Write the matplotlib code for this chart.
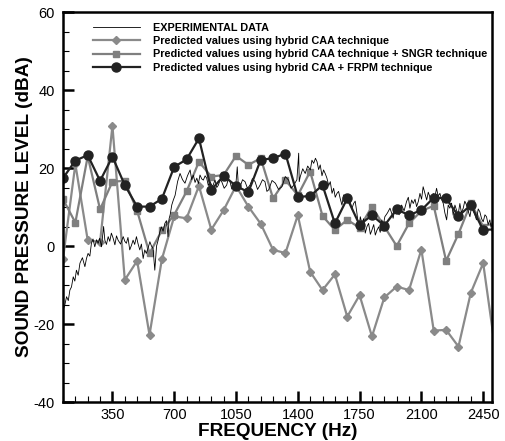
import matplotlib
matplotlib.use("Agg")
import matplotlib.pyplot as plt
from matplotlib.ticker import MultipleLocator, FixedLocator

plt.rcParams['font.family'] = ['Liberation Sans', 'DejaVu Sans']
plt.rcParams['axes.unicode_minus'] = False

# predicted values, one every 70 Hz
freq_pred = [70, 140, 210, 280, 350, 420, 490, 560, 630, 700, 770, 840, 910, 980,
             1050, 1120, 1190, 1260, 1330, 1400, 1470, 1540, 1610, 1680, 1750,
             1820, 1890, 1960, 2030, 2100, 2170, 2240, 2310, 2380, 2450, 2520]
spl_caa = [-3.3, 21, 1.5, 1.0, 30.8, -8.7, -3.8, -22.8, -3.4, 7.6,
           7.1, 15.4, 4.2, 9.2, 15.4, 10.1, 5.7, -1.0, -1.8, 7.9,
           -6.6, -11.3, -7.3, -18.1, -12.6, -23.2, -13.2, -10.4, -11.3, -0.9,
           -21.7, -21.5, -25.8, -12.0, -4.4, -27]
spl_sngr = [12, 6, 23, 9.4, 16.5, 16.7, 9, -1.9, 4, 8,
            14, 21.6, 17.8, 18.2, 23.1, 20.8, 22.5, 12.2, 16.9, 13,
            19.1, 7.7, 4.1, 6.7, 4.7, 10.1, 5.0, 0.0, 5.8, 9.0,
            10.3, -3.8, 3.1, 11.0, 5.0, 6.0]
spl_frpm = [17.4, 21.9, 23.3, 16.7, 22.9, 15.6, 10.1, 10.1, 12.1, 20.3,
            22.2, 27.6, 14.4, 18.0, 15.4, 13.8, 22.1, 22.5, 23.7, 12.6,
            12.8, 15.6, 5.8, 12.2, 5.4, 7.9, 5.2, 9.4, 7.9, 9.2,
            12.4, 12.2, 7.7, 10.5, 4.1, 4.3]

freq_exp = [71, 80, 90, 100, 109, 118, 128, 137, 146, 156, 166, 180, 194, 203,
            212, 222, 231, 240, 250, 260, 269, 278, 288, 300, 307, 316, 326,
            335, 344, 354, 364, 373, 382, 396, 411, 420, 429, 438, 448, 458,
            467, 476, 486, 495, 505, 514, 524, 533, 542, 552, 562, 571, 580,
            590, 600, 609, 618, 627, 637, 647, 656, 665, 671, 677, 686, 695,
            705, 719, 733, 747, 761, 775, 790, 799, 808, 818, 828, 837, 846,
            856, 865, 875, 884, 893, 903, 917, 931, 941, 950, 960, 969, 983,
            997, 1006, 1016, 1026, 1035, 1050, 1057, 1063, 1073, 1087, 1101,
            1115, 1129, 1143, 1158, 1172, 1186, 1200, 1214, 1225, 1235, 1254,
            1273, 1291, 1310, 1329, 1348, 1362, 1377, 1395, 1405, 1408, 1414,
            1428, 1442, 1456, 1471, 1480, 1490, 1500, 1509, 1518, 1527, 1537,
            1546, 1556, 1565, 1575, 1584, 1594, 1603, 1612, 1622, 1631, 1640,
            1650, 1660, 1669, 1678, 1688, 1697, 1706, 1716, 1725, 1735, 1745,
            1754, 1763, 1773, 1782, 1792, 1801, 1811, 1820, 1830, 1839, 1848,
            1858, 1867, 1876, 1885, 1893, 1908, 1922, 1931, 1940, 1950, 1960,
            1974, 1988, 2002, 2016, 2026, 2035, 2045, 2054, 2064, 2073, 2083,
            2092, 2101, 2110, 2120, 2130, 2139, 2148, 2158, 2167, 2176, 2186,
            2195, 2205, 2214, 2224, 2233, 2243, 2252, 2261, 2271, 2280, 2290,
            2299, 2308, 2318, 2327, 2337, 2346, 2356, 2365, 2375, 2384, 2393,
            2403, 2412, 2422, 2431, 2441, 2450, 2460, 2469, 2478, 2488, 2494,
            2500]
spl_exp = [-16.4, -15.2, -13.0, -14.0, -11.3, -10.5, -7.9, -9.0, -6.2, -7.5,
           -4.4, -3.0, -5.3, -3.2, -1.9, -2.6, 0.7, 1.8, -0.2, 1.6, 0.7, 2.0,
           -0.2, 5.0, 1.5, 0.4, 2.4, 1.2, 3.3, 2.0, 0.3, 2.6, 1.5, 0.5, 2.4,
           1.2, 0.7, 2.2, -1.0, 0.2, 1.5, 0.4, 2.4, 0.6, -1.0, 0.5, -3.2, -1.0,
           -1.9, -0.5, 1.1, 0.0, -0.6, -6.2, 0.0, 1.5, 3.5, 4.9, 3.8, 5.8, 6.5,
           2.4, 7.0, 8.0, 10.5, 11.8, 13.0, 16.5, 18.6, 17.0, 16.1, 18.0, 19.5,
           17.0, 18.2, 16.3, 17.4, 16.0, 18.2, 17.2, 16.9, 18.0, 17.4, 15.5,
           16.5, 15.2, 16.9, 15.0, 15.6, 17.0, 16.5, 14.8, 15.6, 17.2, 16.5,
           14.6, 15.6, 16.2, 20.3, 15.5, 15.2, 17.0, 16.5, 14.8, 15.6, 17.3,
           16.5, 14.5, 15.6, 17.0, 16.5, 14.0, 14.4, 16.8, 16.1, 14.5, 15.2,
           17.8, 16.9, 14.8, 15.6, 17.0, 23.8, 16.5, 17.8, 19.8, 18.6, 20.5,
           19.5, 22.0, 21.2, 22.5, 21.6, 19.6, 20.8, 18.0, 19.5, 18.5, 17.4,
           15.5, 16.5, 13.5, 14.8, 12.5, 13.5, 14.0, 12.2, 10.5, 13.1, 11.0,
           12.2, 13.0, 11.4, 9.5, 10.9, 11.5, 8.4, 4.1, 7.5, 5.8, 7.0, 3.3,
           5.0, 5.8, 3.0, 4.1, 5.5, 2.8, 4.0, 4.9, 3.5, 6.7, 5.5, 7.5, 8.5,
           9.7, 8.5, 7.1, 9.8, 9.2, 8.0, 10.5, 9.0, 11.4, 12.5, 9.7, 11.8,
           10.9, 12.0, 10.1, 11.5, 13.5, 12.0, 15.2, 13.5, 11.8, 13.8, 12.6,
           11.5, 13.5, 12.5, 14.8, 12.8, 13.5, 12.0, 10.9, 8.5, 6.7, 10.5,
           9.7, 11.0, 7.9, 10.5, 9.2, 8.0, 10.9, 8.5, 9.7, 11.5, 10.5, 9.0,
           7.5, 10.0, 9.2, 8.0, 6.7, 9.5, 8.8, 7.0, 6.2, 8.0, 7.5, 5.5, 6.7,
           4.8, 5.5]

labels = ["EXPERIMENTAL DATA",
          "Predicted values using hybrid CAA technique",
          "Predicted values using hybrid CAA technique + SNGR technique",
          "Predicted values using hybrid CAA + FRPM technique"]
xticks = [350, 700, 1050, 1400, 1750, 2100, 2450]

fig = plt.figure(figsize=(5.05, 4.41), dpi=100)
ax = fig.add_axes([63/505, 39/441, 429/505, 390/441])

l_caa, = ax.plot(freq_pred, spl_caa, color='#8a8a8a', lw=1.6, marker='D',
                 ms=4, mec='#8a8a8a', mfc='#8a8a8a')
l_sngr, = ax.plot(freq_pred, spl_sngr, color='#7f7f7f', lw=1.6, marker='s',
                  ms=4.5, mec='#7f7f7f', mfc='#7f7f7f')
l_exp, = ax.plot(freq_exp, spl_exp, color='black', lw=0.6)
l_frpm, = ax.plot(freq_pred, spl_frpm, color='#222222', lw=1.6, marker='o',
                  ms=6.5, mec='#222222', mfc='#222222')

ax.set_xlim(70, 2500)
ax.set_ylim(-40, 60)
ax.xaxis.set_major_locator(FixedLocator(xticks))
ax.xaxis.set_minor_locator(MultipleLocator(70))
ax.yaxis.set_major_locator(MultipleLocator(20))
ax.yaxis.set_minor_locator(MultipleLocator(5))
ax.tick_params(which='both', direction='in', top=False, right=False,
               labelsize=10.5)
ax.tick_params(which='major', length=8, width=1.8)
ax.tick_params(which='minor', length=4, width=0.8)
ax.tick_params(axis='x', pad=4)
ax.tick_params(axis='y', pad=6)
for s in ax.spines.values():
    s.set_linewidth(1.8)

ax.set_xlabel("FREQUENCY (Hz)", fontsize=13.7, fontweight='bold')
ax.set_ylabel("SOUND PRESSURE LEVEL (dBA)", fontsize=13.7, fontweight='bold')
ax.xaxis.set_label_coords(0.5, -0.054)
ax.yaxis.set_label_coords(-0.07, 0.5)

leg = ax.legend([l_exp, l_caa, l_sngr, l_frpm], labels, loc='upper left',
                bbox_to_anchor=(0.07, 0.972), frameon=False,
                prop={'size': 7.8, 'weight': 'bold'}, handlelength=4.3,
                handletextpad=1.2, labelspacing=0.3, borderpad=0,
                borderaxespad=0)

fig.savefig("out.png", dpi=100)
